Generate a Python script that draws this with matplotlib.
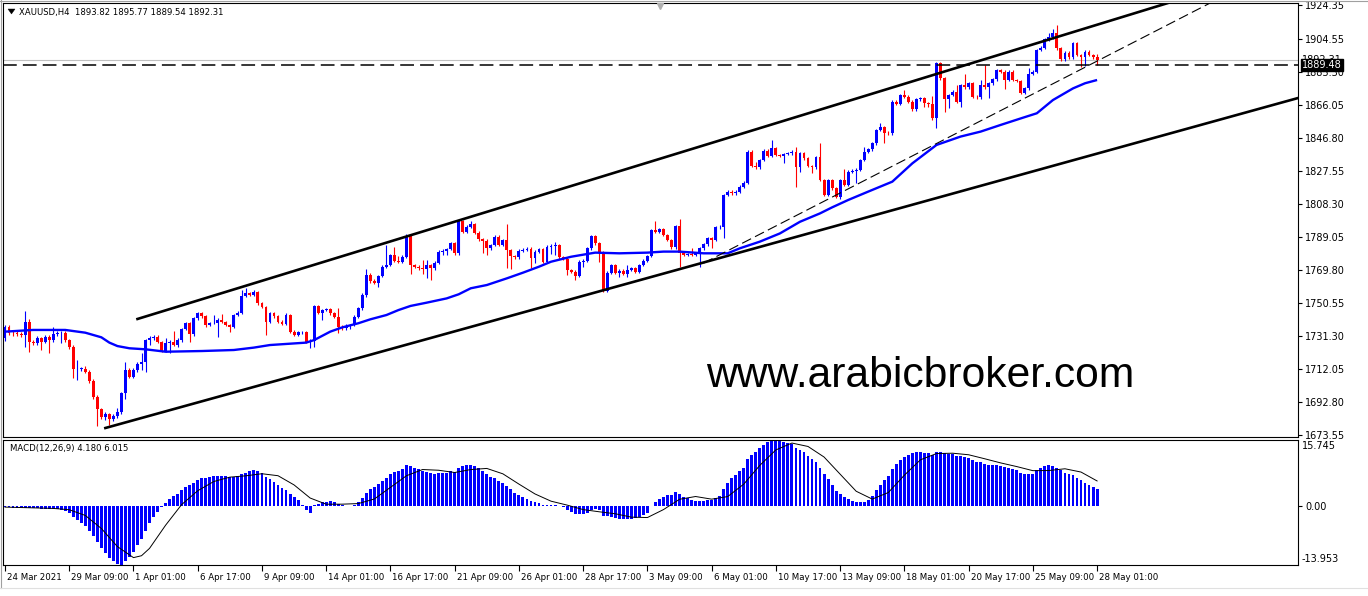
import matplotlib
matplotlib.use("Agg")
import matplotlib.pyplot as plt
import matplotlib.transforms as mtransforms
from matplotlib.lines import Line2D
from matplotlib.patches import Polygon

# ---------------- data ----------------
opens = [
 1729.9, 1736.7, 1733.2, 1732.8, 1732.4, 1731.9, 1739.6, 1727.9, 1727.0, 1729.9,
 1727.9, 1730.9, 1728.9, 1732.4, 1732.8, 1733.2, 1728.9, 1725.0, 1711.8, 1712.0,
 1712.2, 1710.5, 1705.0, 1695.9, 1688.5, 1683.8, 1685.8, 1682.7, 1684.6, 1687.1,
 1697.8, 1711.4, 1707.5, 1711.4, 1714.9, 1716.3, 1728.9, 1729.9, 1730.9, 1727.9,
 1722.7, 1727.0, 1727.8, 1726.0, 1728.9, 1735.2, 1738.7, 1732.4, 1741.6, 1744.5,
 1742.9, 1737.7, 1738.7, 1739.0, 1740.6, 1739.6, 1737.7, 1736.7, 1743.5, 1744.9,
 1754.6, 1756.2, 1755.2, 1757.1, 1750.3, 1748.4, 1739.6, 1744.5, 1742.9, 1739.6,
 1738.3, 1743.5, 1733.8, 1731.9, 1733.4, 1733.6, 1728.0, 1728.6, 1748.8, 1744.9,
 1746.4, 1746.8, 1744.5, 1742.5, 1736.7, 1735.7, 1737.1, 1737.7, 1742.5, 1747.4,
 1755.2, 1766.9, 1763.4, 1762.4, 1766.3, 1771.7, 1772.7, 1778.5, 1775.2, 1774.6,
 1777.5, 1789.6, 1772.7, 1771.7, 1770.7, 1770.2, 1772.7, 1770.7, 1774.0, 1780.5,
 1781.0, 1782.0, 1785.3, 1779.5, 1798.5, 1792.1, 1795.0, 1796.6, 1791.5, 1787.7,
 1786.9, 1782.4, 1784.4, 1789.2, 1784.4, 1787.3, 1781.4, 1777.9, 1777.2, 1781.0,
 1781.6, 1782.2, 1776.6, 1780.5, 1781.8, 1774.6, 1783.4, 1783.9, 1784.4, 1777.2,
 1776.4, 1769.8, 1768.8, 1766.3, 1774.6, 1775.3, 1782.4, 1789.6, 1785.3, 1779.9,
 1757.7, 1768.2, 1772.7, 1768.2, 1769.4, 1767.4, 1769.8, 1770.7, 1768.8, 1772.7,
 1775.2, 1777.9, 1793.1, 1792.1, 1793.5, 1790.2, 1787.3, 1783.0, 1795.4, 1779.5,
 1778.5, 1779.1, 1778.5, 1779.5, 1782.4, 1784.7, 1788.2, 1787.3, 1794.6, 1795.0,
 1813.5, 1815.5, 1814.5, 1815.5, 1818.4, 1820.7, 1838.8, 1830.4, 1829.6, 1833.9,
 1839.4, 1836.3, 1840.7, 1836.8, 1836.3, 1837.4, 1837.8, 1838.8, 1829.6, 1837.8,
 1834.9, 1830.4, 1829.6, 1835.5, 1822.3, 1813.5, 1822.3, 1817.4, 1812.6, 1822.3,
 1819.4, 1827.1, 1827.6, 1828.2, 1833.9, 1838.8, 1840.2, 1843.7, 1851.4, 1853.0,
 1849.9, 1849.5, 1868.0, 1866.6, 1871.9, 1870.9, 1868.0, 1863.5, 1869.3, 1869.9,
 1867.0, 1866.5, 1858.2, 1890.3, 1881.6, 1869.3, 1871.9, 1873.8, 1868.0, 1877.7,
 1876.3, 1878.7, 1870.9, 1870.4, 1877.7, 1876.3, 1878.7, 1881.0, 1886.4, 1885.5,
 1880.6, 1885.5, 1880.6, 1880.0, 1873.2, 1875.7, 1884.1, 1885.5, 1898.1, 1899.5,
 1904.3, 1905.5, 1907.8, 1899.1, 1892.7, 1896.6, 1893.8, 1902.0, 1895.2, 1894.2,
 1897.1, 1895.2, 1893.82]

highs = [
 1737.5, 1737.5, 1734.5, 1734.0, 1733.5, 1745.9, 1741.0, 1729.0, 1731.0, 1730.8,
 1732.0, 1731.8, 1736.7, 1734.0, 1734.2, 1734.0, 1729.5, 1725.8, 1717.3, 1713.2,
 1713.5, 1711.2, 1706.0, 1697.0, 1689.5, 1687.0, 1686.5, 1685.8, 1689.5, 1698.8,
 1716.3, 1712.5, 1712.5, 1716.0, 1721.1, 1729.8, 1731.5, 1732.0, 1731.8, 1728.5,
 1729.9, 1728.8, 1734.4, 1730.0, 1736.0, 1739.6, 1739.5, 1742.5, 1745.5, 1745.3,
 1743.5, 1739.5, 1743.5, 1741.5, 1743.9, 1740.3, 1738.5, 1744.3, 1745.8, 1758.1,
 1759.1, 1757.0, 1758.0, 1757.8, 1751.0, 1749.0, 1745.3, 1745.0, 1743.6, 1740.5,
 1744.4, 1744.2, 1734.5, 1734.3, 1734.4, 1734.3, 1729.4, 1749.6, 1749.4, 1747.2,
 1747.6, 1747.5, 1745.0, 1747.4, 1737.5, 1738.0, 1738.5, 1743.4, 1748.3, 1756.3,
 1770.2, 1767.8, 1764.5, 1767.1, 1772.5, 1784.4, 1779.3, 1783.4, 1778.0, 1778.3,
 1790.5, 1790.2, 1773.5, 1772.5, 1775.6, 1775.6, 1773.5, 1774.8, 1781.3, 1781.8,
 1782.8, 1786.1, 1786.0, 1799.3, 1799.0, 1795.8, 1798.5, 1797.4, 1792.3, 1788.5,
 1787.6, 1785.2, 1790.0, 1789.9, 1788.1, 1796.6, 1782.2, 1778.7, 1781.8, 1782.4,
 1783.0, 1783.0, 1781.3, 1782.6, 1782.6, 1784.2, 1784.7, 1786.3, 1785.2, 1778.0,
 1777.2, 1770.6, 1769.6, 1775.4, 1776.1, 1783.4, 1790.4, 1790.4, 1786.1, 1780.7,
 1769.0, 1773.5, 1773.5, 1770.2, 1770.2, 1772.7, 1771.5, 1771.5, 1773.5, 1776.0,
 1778.7, 1793.9, 1798.5, 1794.3, 1794.3, 1791.0, 1788.1, 1796.2, 1799.3, 1780.3,
 1779.9, 1782.4, 1780.3, 1783.2, 1785.5, 1789.0, 1789.0, 1795.4, 1795.8, 1814.3,
 1816.3, 1816.3, 1816.3, 1819.2, 1821.5, 1839.6, 1839.6, 1833.0, 1834.7, 1840.2,
 1840.2, 1845.6, 1841.5, 1837.6, 1838.2, 1838.6, 1839.6, 1841.7, 1838.6, 1838.6,
 1835.7, 1831.2, 1836.3, 1843.7, 1823.1, 1823.1, 1823.1, 1818.2, 1823.1, 1828.5,
 1827.9, 1828.4, 1829.0, 1834.7, 1841.7, 1841.0, 1844.5, 1852.2, 1855.3, 1853.8,
 1851.0, 1868.8, 1868.8, 1872.7, 1874.8, 1871.7, 1868.8, 1870.1, 1870.7, 1870.7,
 1868.0, 1871.5, 1891.1, 1891.1, 1882.4, 1872.7, 1874.6, 1877.7, 1878.5, 1884.1,
 1879.5, 1879.5, 1871.7, 1880.6, 1889.4, 1879.5, 1881.8, 1887.2, 1887.2, 1886.3,
 1886.3, 1886.4, 1881.4, 1880.8, 1876.5, 1887.4, 1886.3, 1898.9, 1900.3, 1905.1,
 1907.8, 1910.2, 1912.7, 1899.9, 1897.4, 1897.4, 1902.8, 1902.8, 1896.0, 1897.9,
 1897.9, 1896.0, 1895.77]

lows = [
 1728.5, 1732.0, 1731.5, 1731.0, 1730.5, 1725.0, 1722.1, 1726.0, 1726.0, 1723.1,
 1727.0, 1721.5, 1728.0, 1731.5, 1727.0, 1728.0, 1723.8, 1706.6, 1705.6, 1711.0,
 1709.5, 1703.8, 1694.5, 1678.9, 1683.0, 1682.5, 1679.5, 1681.5, 1683.5, 1686.0,
 1694.3, 1706.5, 1706.5, 1710.5, 1711.4, 1710.5, 1726.0, 1729.0, 1727.0, 1722.0,
 1721.8, 1721.5, 1725.2, 1725.0, 1728.0, 1734.5, 1727.9, 1731.5, 1740.8, 1742.0,
 1736.7, 1737.0, 1738.0, 1730.9, 1738.8, 1737.0, 1733.8, 1735.8, 1742.8, 1744.0,
 1753.8, 1754.5, 1754.4, 1749.5, 1747.5, 1731.9, 1738.8, 1742.0, 1738.8, 1737.5,
 1737.6, 1733.0, 1731.0, 1731.0, 1732.6, 1727.2, 1724.1, 1725.0, 1744.0, 1740.5,
 1745.6, 1743.8, 1741.7, 1732.8, 1734.8, 1734.8, 1735.5, 1736.9, 1741.5, 1746.5,
 1754.3, 1762.4, 1761.4, 1760.0, 1765.5, 1770.9, 1772.0, 1774.5, 1773.8, 1773.8,
 1776.8, 1767.4, 1770.9, 1769.9, 1767.4, 1764.9, 1763.9, 1769.9, 1773.2, 1778.5,
 1778.8, 1781.2, 1778.7, 1778.8, 1791.3, 1791.3, 1794.2, 1790.7, 1786.9, 1779.9,
 1778.5, 1781.6, 1783.6, 1783.6, 1783.6, 1770.7, 1770.2, 1776.4, 1776.4, 1780.2,
 1780.8, 1770.7, 1773.7, 1779.7, 1773.8, 1773.8, 1779.1, 1778.5, 1776.4, 1775.6,
 1766.9, 1768.0, 1763.9, 1765.5, 1771.7, 1774.5, 1781.6, 1784.5, 1774.6, 1756.9,
 1757.1, 1767.4, 1767.4, 1765.9, 1766.6, 1765.9, 1769.0, 1768.0, 1768.0, 1771.9,
 1774.4, 1777.1, 1791.3, 1791.3, 1789.4, 1786.5, 1782.2, 1782.2, 1771.3, 1777.7,
 1777.7, 1777.7, 1777.7, 1771.7, 1781.6, 1783.9, 1782.4, 1786.5, 1793.8, 1788.2,
 1812.7, 1813.7, 1813.7, 1814.7, 1817.6, 1819.9, 1829.6, 1828.8, 1828.8, 1833.1,
 1835.5, 1835.5, 1836.0, 1835.5, 1832.0, 1836.6, 1837.0, 1818.0, 1827.1, 1834.1,
 1829.6, 1826.5, 1828.8, 1821.5, 1812.7, 1812.7, 1816.6, 1811.8, 1811.0, 1818.6,
 1818.6, 1826.3, 1820.3, 1827.4, 1833.1, 1838.0, 1839.4, 1842.9, 1850.6, 1844.0,
 1848.7, 1848.7, 1865.8, 1865.8, 1870.1, 1867.2, 1862.7, 1862.7, 1868.5, 1865.0,
 1865.0, 1857.4, 1852.4, 1880.8, 1862.1, 1864.0, 1871.1, 1867.2, 1865.0, 1875.5,
 1875.5, 1870.1, 1869.6, 1869.6, 1875.5, 1869.9, 1877.9, 1880.2, 1884.7, 1875.2,
 1879.8, 1879.8, 1879.2, 1872.4, 1872.4, 1874.9, 1883.3, 1884.7, 1897.3, 1898.7,
 1903.5, 1904.7, 1898.3, 1891.9, 1891.9, 1893.0, 1893.0, 1894.4, 1888.4, 1888.8,
 1894.4, 1893.0, 1889.54]

closes = [
 1736.7, 1733.2, 1732.8, 1732.4, 1731.9, 1739.6, 1727.9, 1727.0, 1729.9, 1727.9,
 1730.9, 1728.9, 1732.4, 1732.8, 1733.2, 1728.9, 1725.0, 1711.8, 1712.0, 1712.2,
 1710.5, 1705.0, 1695.9, 1688.5, 1683.8, 1685.8, 1682.7, 1684.6, 1687.1, 1697.8,
 1711.4, 1707.5, 1711.4, 1714.9, 1716.3, 1728.9, 1729.9, 1730.9, 1727.9, 1722.7,
 1727.0, 1727.8, 1726.0, 1728.9, 1735.2, 1738.7, 1732.4, 1741.6, 1744.5, 1742.9,
 1737.7, 1738.7, 1739.0, 1740.6, 1739.6, 1737.7, 1736.7, 1743.5, 1744.9, 1754.6,
 1756.2, 1755.2, 1757.1, 1750.3, 1748.4, 1739.6, 1744.5, 1742.9, 1739.6, 1738.3,
 1743.5, 1733.8, 1731.9, 1733.4, 1733.6, 1728.0, 1728.6, 1748.8, 1744.9, 1746.4,
 1746.8, 1744.5, 1742.5, 1736.7, 1735.7, 1737.1, 1737.7, 1742.5, 1747.4, 1755.2,
 1766.9, 1763.4, 1762.4, 1766.3, 1771.7, 1772.7, 1778.5, 1775.2, 1774.6, 1777.5,
 1789.6, 1772.7, 1771.7, 1770.7, 1770.2, 1772.7, 1770.7, 1774.0, 1780.5, 1781.0,
 1782.0, 1785.3, 1779.5, 1798.5, 1792.1, 1795.0, 1796.6, 1791.5, 1787.7, 1786.9,
 1782.4, 1784.4, 1789.2, 1784.4, 1787.3, 1781.4, 1777.9, 1777.2, 1781.0, 1781.6,
 1782.2, 1776.6, 1780.5, 1781.8, 1774.6, 1783.4, 1783.9, 1784.4, 1777.2, 1776.4,
 1769.8, 1768.8, 1766.3, 1774.6, 1775.3, 1782.4, 1789.6, 1785.3, 1779.9, 1757.7,
 1768.2, 1772.7, 1768.2, 1769.4, 1767.4, 1769.8, 1770.7, 1768.8, 1772.7, 1775.2,
 1777.9, 1793.1, 1792.1, 1793.5, 1790.2, 1787.3, 1783.0, 1795.4, 1779.5, 1778.5,
 1779.1, 1778.5, 1779.5, 1782.4, 1784.7, 1788.2, 1787.3, 1794.6, 1795.0, 1813.5,
 1815.5, 1814.5, 1815.5, 1818.4, 1820.7, 1838.8, 1830.4, 1829.6, 1833.9, 1839.4,
 1836.3, 1840.7, 1836.8, 1836.3, 1837.4, 1837.8, 1838.8, 1829.6, 1837.8, 1834.9,
 1830.4, 1829.6, 1835.5, 1822.3, 1813.5, 1822.3, 1817.4, 1812.6, 1822.3, 1819.4,
 1827.1, 1827.6, 1828.2, 1833.9, 1838.8, 1840.2, 1843.7, 1851.4, 1853.0, 1849.9,
 1849.5, 1868.0, 1866.6, 1871.9, 1870.9, 1868.0, 1863.5, 1869.3, 1869.9, 1867.0,
 1866.5, 1858.2, 1890.3, 1881.6, 1869.3, 1871.9, 1873.8, 1868.0, 1877.7, 1876.3,
 1878.7, 1870.9, 1870.4, 1877.7, 1876.3, 1878.7, 1881.0, 1886.4, 1885.5, 1880.6,
 1885.5, 1880.6, 1880.0, 1873.2, 1875.7, 1884.1, 1885.5, 1898.1, 1899.5, 1904.3,
 1905.5, 1907.8, 1899.1, 1892.7, 1896.6, 1893.8, 1902.0, 1895.2, 1894.2, 1897.1,
 1895.2, 1893.8, 1892.31]

# moving average (blue line), sampled along its length
ma_idx = [0, 7, 15, 20, 24, 26, 28, 31, 35, 40, 49, 57, 62, 66, 75, 77, 81, 84, 88, 91,
          95, 98, 101, 105, 110, 113, 116, 120, 125, 129, 133, 136, 141, 147, 153, 160, 164, 168, 174, 180,
          183, 188, 193, 198, 203, 206, 210, 215, 221, 226, 232, 238, 243, 248, 253, 257, 261, 266, 269, 272]
ma_val = [1733.8, 1734.8, 1734.8, 1733.2, 1730.5, 1727.4, 1725.4, 1724.1, 1723.5, 1722.1,
          1722.5, 1723.1, 1724.5, 1726.0, 1727.4, 1728.9, 1733.8, 1736.3, 1738.7, 1741.0,
          1743.5, 1746.4, 1748.8, 1750.7, 1753.2, 1755.6, 1759.1, 1761.0, 1764.9, 1768.2,
          1771.7, 1774.6, 1777.5, 1779.9, 1779.5, 1779.9, 1780.5, 1780.5, 1779.5, 1779.5,
          1782.4, 1786.3, 1791.1, 1797.9, 1802.8, 1806.3, 1810.6, 1815.5, 1821.3, 1832.0,
          1842.7, 1847.6, 1850.5, 1854.4, 1858.2, 1861.2, 1868.9, 1875.7, 1878.7, 1880.6]

macd_hist = [
 -0.2, -0.2, -0.3, -0.3, -0.4, -0.4, -0.3, -0.5, -0.5, -0.6,
 -0.6, -0.7, -0.6, -0.6, -1.0, -1.2, -1.6, -2.5, -3.3, -4.0,
 -4.8, -5.8, -7.0, -8.5, -10.0, -11.2, -12.3, -13.0, -13.6, -13.953,
 -13.0, -12.0, -10.8, -9.3, -7.8, -5.8, -4.0, -2.5, -1.3, -0.2,
 0.8, 1.7, 2.4, 3.0, 3.8, 4.6, 5.0, 5.6, 6.3, 6.7,
 6.8, 7.0, 7.1, 7.2, 7.2, 7.1, 6.9, 7.0, 7.1, 7.6,
 8.0, 8.3, 8.5, 8.3, 7.9, 7.0, 6.5, 5.8, 5.0, 4.3,
 3.9, 3.0, 2.2, 1.5, 0.3, -1.0, -1.6, 0.4, 0.6, 0.9,
 1.1, 1.2, 1.1, 0.6, 0.2, 0.1, 0.1, 0.4, 1.0, 2.0,
 3.2, 4.0, 4.6, 5.2, 6.0, 6.8, 7.6, 8.1, 8.4, 8.8,
 9.8, 9.5, 9.2, 8.8, 8.4, 8.1, 7.8, 7.6, 7.8, 7.9,
 8.0, 8.4, 8.2, 9.2, 9.5, 9.7, 9.8, 9.5, 9.0, 8.4,
 7.6, 7.0, 6.6, 6.0, 5.5, 4.8, 4.0, 3.2, 2.7, 2.2,
 1.8, 1.2, 1.0, 0.8, 0.4, 0.4, 0.4, 0.4, 0.1, -0.2,
 -0.8, -1.3, -1.9, -1.9, -1.9, -1.5, -0.9, -0.7, -0.9, -2.4,
 -2.4, -2.5, -2.8, -3.0, -3.1, -3.1, -3.0, -2.9, -2.6, -2.1,
 -1.5, 0.0, 0.9, 1.8, 2.3, 2.6, 2.6, 3.4, 2.8, 2.3,
 2.0, 1.6, 1.3, 1.2, 1.2, 1.4, 1.4, 2.0, 2.4, 4.2,
 5.6, 6.6, 7.5, 8.4, 9.2, 11.2, 12.2, 13.0, 13.8, 14.6,
 15.2, 15.745, 15.6, 15.4, 15.2, 15.0, 14.7, 13.8, 13.4, 12.8,
 12.0, 11.2, 10.6, 9.2, 7.6, 6.5, 5.0, 3.6, 3.0, 2.3,
 1.8, 1.3, 1.0, 1.0, 1.0, 1.5, 2.5, 3.8, 5.0, 6.2,
 7.3, 8.8, 10.0, 11.0, 11.8, 12.3, 12.6, 12.8, 12.8, 12.7,
 12.6, 12.3, 12.8, 12.8, 12.6, 12.5, 12.4, 12.0, 11.9, 11.7,
 11.5, 11.0, 10.6, 10.4, 10.1, 9.9, 9.8, 9.8, 9.6, 9.3,
 9.1, 8.8, 8.5, 7.9, 7.6, 7.6, 7.7, 8.5, 9.2, 9.6,
 9.8, 9.6, 9.2, 8.6, 8.0, 7.6, 7.4, 6.8, 6.2, 5.6,
 5.0, 4.6, 4.18]

# signal line (thin black), sampled along its length
sig_idx = [0, 4, 8, 12, 16, 20, 24, 28, 32, 34, 36, 40, 44, 48, 52, 56, 60, 64, 68, 72,
           76, 80, 84, 88, 92, 96, 100, 104, 108, 112, 116, 120, 124, 128, 132, 136, 140, 144, 148, 152,
           156, 160, 164, 168, 172, 176, 180, 184, 188, 192, 196, 200, 204, 208, 212, 216, 220, 224, 228, 232,
           236, 240, 244, 248, 252, 256, 260, 264, 268, 272]
sig_val = [-0.2, -0.3, -0.4, -0.51, -0.82, -2.18, -5.28, -9.58, -12.2, -11.75,
           -10.0, -4.5, 0.41, 3.69, 5.88, 6.92, 7.24, 7.73, 7.26, 5.07,
           1.96, 0.49, 0.5, 0.64, 1.73, 4.49, 7.26, 8.73, 8.56, 8.02,
           8.72, 8.99, 7.71, 5.27, 2.93, 1.21, 0.28, -0.79, -1.31, -1.78,
           -2.58, -2.68, -0.79, 1.66, 2.32, 1.69, 2.3, 5.26, 9.72, 13.39,
           15.02, 14.21, 11.7, 7.63, 3.57, 1.71, 3.26, 7.38, 11.04, 12.52,
           12.61, 12.24, 11.29, 10.3, 9.43, 8.46, 8.49, 8.91, 8.13, 6.015]

price_ticks = [1924.35, 1904.55, 1885.30, 1866.05, 1846.80, 1827.55, 1808.30,
               1789.05, 1769.80, 1750.55, 1731.30, 1712.05, 1692.80, 1673.55]
time_label_idx = [0, 16, 32, 48, 64, 80, 96, 112, 128, 144, 160, 176, 192, 208, 224, 240, 256, 272]
time_labels = ["24 Mar 2021", "29 Mar 09:00", "1 Apr 01:00", "6 Apr 17:00", "9 Apr 09:00",
               "14 Apr 01:00", "16 Apr 17:00", "21 Apr 09:00", "26 Apr 01:00", "28 Apr 17:00",
               "3 May 09:00", "6 May 01:00", "10 May 17:00", "13 May 09:00", "18 May 01:00",
               "20 May 17:00", "25 May 09:00", "28 May 01:00"]

# drawn objects (time index, price)
upper_chan_idx, upper_chan_price = [33, 292], [1741.2, 1927.2]
lower_chan_idx, lower_chan_price = [25, 323], [1677.6, 1870.7]
dash_tl_idx, dash_tl_price = [174, 300], [1773.8, 1925.3]
hline_price = 1889.48
bid_price = 1892.31
macd_max, macd_min = 15.745, -13.953

title_text = "XAUUSD,H4  1893.82 1895.77 1889.54 1892.31"
macd_text = "MACD(12,26,9) 4.180 6.015"
watermark = "www.arabicbroker.com"

n = len(closes)
assert len(opens) == n and len(highs) == n and len(lows) == n and len(macd_hist) == n
assert len(ma_idx) == len(ma_val) and len(sig_idx) == len(sig_val)

# ---------------- figure ----------------
W, H = 1368, 596
fig = plt.figure(figsize=(W / 100, H / 100), dpi=100)
fig.patch.set_facecolor("white")

PX_L, PX_R = 3, 1298
MAIN_T, MAIN_B = 3, 437
MACD_T, MACD_B = 440, 565
ax = fig.add_axes([PX_L / W, 1 - MAIN_B / H, (PX_R - PX_L) / W, (MAIN_B - MAIN_T) / H])
axm = fig.add_axes([PX_L / W, 1 - MACD_B / H, (PX_R - PX_L) / W, (MACD_B - MACD_T) / H])

step = 4.015
xl = ((PX_L - 5) / step, (PX_R - 5) / step)
for a in (ax, axm):
    a.set_xlim(*xl)
    a.set_facecolor("white")
    for s in a.spines.values():
        s.set_color("black")
        s.set_linewidth(0.8)

pp = 19.25 / 33.0
ax.set_ylim(1924.35 - (MAIN_B - 5) * pp, 1924.35 + (5 - MAIN_T) * pp)

UP, DN = "#0000FF", "#FF0000"
idx = list(range(n))
cols = [UP if c >= o else DN for o, c in zip(opens, closes)]
ax.vlines(idx, lows, highs, colors=cols, linewidth=0.8, zorder=2)
bottoms = [min(o, c) for o, c in zip(opens, closes)]
heights = [max(abs(c - o), 0.35) for o, c in zip(opens, closes)]
ax.bar(idx, heights, bottom=bottoms, width=0.72, color=cols, linewidth=0, zorder=2)

ax.axhline(bid_price, color="#C0C0C0", lw=0.8, zorder=1)
ax.plot(ma_idx, ma_val, color="#0000FF", lw=1.7, zorder=4, solid_capstyle="butt")
ax.plot(upper_chan_idx, upper_chan_price, color="black", lw=1.9, zorder=5)
ax.plot(lower_chan_idx, lower_chan_price, color="black", lw=1.9, zorder=5)
ax.plot(dash_tl_idx, dash_tl_price, color="black", lw=0.8, dashes=(9, 4), zorder=5)
hl = ax.axhline(hline_price, color="black", lw=1.1, zorder=5)
hl.set_dashes((9, 4))

ax.yaxis.tick_right()
ax.set_yticks(price_ticks)
ax.set_yticklabels([f"{p:.2f}" for p in price_ticks])
ax.tick_params(axis="y", direction="out", length=3, width=0.8, labelsize=7, pad=2, colors="black")
ax.set_xticks([])

btrans = mtransforms.blended_transform_factory(ax.transAxes, ax.transData)
ax.text(1 + 4 / 1295, bid_price, f"{bid_price:.2f}", transform=btrans, fontsize=7,
        va="center", ha="left", color="black", zorder=6, clip_on=False)
ax.text(1 + 4 / 1295, hline_price, f"{hline_price:.2f}", transform=btrans, fontsize=7,
        va="center", ha="left", color="white", zorder=7, clip_on=False,
        bbox=dict(boxstyle="square,pad=0.1", fc="black", ec="black"))

ax.plot([0.507], [0.992], marker="v", ms=5, color="#B0B0B0", transform=ax.transAxes,
        clip_on=False, zorder=6)

# MACD panel
axm.bar(idx, macd_hist, width=0.72, color="#0000FF", linewidth=0, zorder=2)
axm.plot(sig_idx, sig_val, color="black", lw=0.7, zorder=3)
axm.set_ylim(macd_min, macd_max)
axm.yaxis.tick_right()
axm.set_yticks([0])
axm.set_yticklabels(["0.00"])
axm.tick_params(axis="y", direction="out", length=3, width=0.8, labelsize=7, pad=2, colors="black")
axm.text(1 + 4 / 1295, 0.99, f"{macd_max:.3f}", transform=axm.transAxes, fontsize=7,
         va="top", ha="left", clip_on=False)
axm.text(1 + 4 / 1295, 0.01, f"{macd_min:.3f}", transform=axm.transAxes, fontsize=7,
         va="bottom", ha="left", clip_on=False)

axm.set_xticks(time_label_idx)
axm.set_xticklabels(time_labels)
axm.tick_params(axis="x", direction="out", length=4, width=0.8, labelsize=6.2, pad=2, colors="black")
off = mtransforms.ScaledTranslation(2 / 100, 0, fig.dpi_scale_trans)
for lbl in axm.get_xticklabels():
    lbl.set_ha("left")
    lbl.set_transform(lbl.get_transform() + off)

# texts
fig.text(19 / W, 1 - 12 / H, title_text, fontsize=6.1, va="center", ha="left", color="black")
tri = Polygon([[8 / W, 1 - 9 / H], [15 / W, 1 - 9 / H], [11.5 / W, 1 - 14 / H]],
              closed=True, transform=fig.transFigure, fc="black", ec="black", lw=0.3)
fig.patches.append(tri)
fig.text(10 / W, 1 - 448 / H, macd_text, fontsize=6.1, va="center", ha="left", color="black")
fig.text(920 / W, 1 - 387 / H, watermark, fontsize=30.7, family="Liberation Sans",
         ha="center", va="baseline", color="black")

# window border lines
fig.add_artist(Line2D([0, 1], [1 - 0.5 / H, 1 - 0.5 / H], transform=fig.transFigure, color="#A0A0A0", lw=0.8))
fig.add_artist(Line2D([0.5 / W, 0.5 / W], [1 - 588 / H, 1], transform=fig.transFigure, color="#A0A0A0", lw=0.8))
fig.add_artist(Line2D([0, 1], [1 - 588 / H, 1 - 588 / H], transform=fig.transFigure, color="#E0E0E0", lw=0.8))

fig.savefig("out.png", dpi=100, facecolor="white")
